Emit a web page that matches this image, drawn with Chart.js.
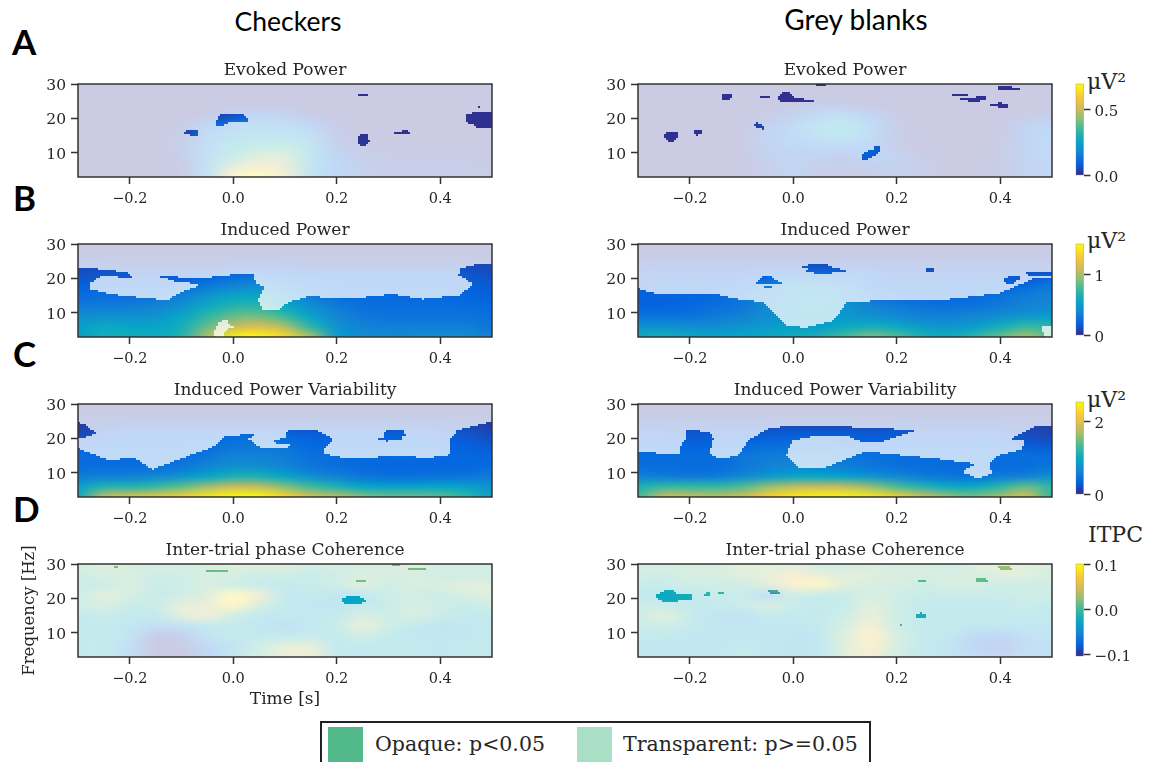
<!DOCTYPE html>
<html><head><meta charset="utf-8">
<script src="https://cdn.jsdelivr.net/npm/chart.js@4/dist/chart.umd.js"></script>
<style>
html,body{margin:0;padding:0;background:#fff;width:1154px;height:762px;overflow:hidden;position:relative}
canvas{position:absolute}
.t{position:absolute;white-space:nowrap;color:#000}
.head{font:26.5px Lato,sans-serif;transform:translateX(-50%)}
.let{font:bold 35px Lato,sans-serif}
.unit{font:22px "DejaVu Serif",serif;color:#262626}
#legend{position:absolute;left:320px;top:721px;width:547px;height:60px;border:2px solid #222;box-sizing:content-box}
.sw{position:absolute;top:4px;width:35px;height:35px}
.lt{position:absolute;top:9px;font:20.5px "DejaVu Serif",serif;color:#262626;white-space:nowrap}
</style></head><body>
<div class="t head" style="left:288px;top:5px">Checkers</div>
<div class="t head" style="left:856px;top:2px;font-size:28px">Grey blanks</div>
<div class="t let" style="left:12px;top:20px">A</div>
<div class="t let" style="left:13px;top:176px">B</div>
<div class="t let" style="left:13px;top:332px">C</div>
<div class="t let" style="left:13px;top:487px">D</div>
<div class="t unit" style="left:1087px;top:69px">μV²</div>
<div class="t unit" style="left:1087px;top:228px">μV²</div>
<div class="t unit" style="left:1087px;top:387px">μV²</div>
<div class="t unit" style="left:1088px;top:522px">ITPC</div>
<div id="legend">
<div class="sw" style="left:6px;background:#52ba8a"></div><div class="lt" style="left:53px">Opaque: p&lt;0.05</div>
<div class="sw" style="left:255px;background:#a8dfc5"></div><div class="lt" style="left:301px">Transparent: p&gt;=0.05</div>
</div>
<script>
const times=[-0.3,-0.25,-0.2,-0.15,-0.1,-0.05,0,0.05,0.1,0.15,0.2,0.25,0.3,0.35,0.4,0.45,0.5];
const freqs=[30,27,24,21,18,15,12,9,6,3];
const parula=['#352a87','#0363e1','#1485d4','#06a7c6','#38b99e','#92bf73','#d9ba56','#fcce2e','#f9fb0e'];
const xTicks=[-0.2,0,0.2,0.4];
const yTicks=[10,20,30];

const evokedCheckers=[
[.01,.01,.01,.01,.01,.01,.01,.01,.01,.01,.01,.01,.01,.01,.01,.01,.01],
[.01,.01,.01,.01,.01,.01,.01,.01,.01,.01,.01,.01,.01,.01,.01,.01,.01],
[.01,.01,.01,.01,.01,.01,.01,.01,.01,.01,.01,.01,.01,.01,.01,.01,.01],
[.01,.01,.01,.01,.01,.02,.06,.08,.06,.02,.01,.01,.01,.01,.01,.01,.01],
[.01,.01,.01,.01,.02,.09,.14,.17,.16,.09,.02,.01,.01,.01,.01,.01,.01],
[.01,.01,.01,.01,.03,.13,.21,.24,.24,.17,.03,.01,.01,.01,.01,.01,.01],
[.01,.01,.01,.01,.04,.16,.27,.32,.34,.22,.05,.02,.01,.01,.01,.01,.01],
[.01,.01,.01,.01,.03,.18,.32,.42,.42,.24,.07,.04,.02,.02,.02,.02,.01],
[.01,.01,.01,.01,.02,.18,.44,.54,.46,.22,.09,.05,.03,.03,.03,.02,.02],
[.01,.01,.01,.01,.02,.2,.62,.69,.52,.2,.09,.05,.03,.03,.03,.03,.02]];
const evokedGrey=[
[.01,.01,.01,.01,.01,.01,.01,.01,.01,.01,.01,.01,.01,.01,.01,.01,.01],
[.01,.01,.01,.01,.01,.01,.01,.01,.01,.01,.01,.01,.01,.01,.01,.01,.01],
[.01,.01,.01,.01,.01,.01,.01,.03,.03,.01,.01,.01,.01,.01,.01,.01,.01],
[.01,.01,.01,.01,.01,.02,.06,.13,.15,.07,.02,.01,.01,.01,.01,.02,.03],
[.01,.01,.01,.01,.01,.05,.12,.22,.26,.13,.03,.01,.01,.01,.01,.06,.09],
[.01,.01,.01,.01,.01,.07,.12,.2,.24,.13,.03,.01,.01,.01,.01,.07,.1],
[.01,.01,.01,.01,.01,.06,.09,.11,.12,.09,.03,.01,.01,.01,.02,.07,.1],
[.01,.01,.01,.01,.01,.05,.07,.06,.05,.08,.06,.02,.01,.01,.02,.07,.1],
[.01,.01,.01,.01,.01,.04,.07,.04,.03,.05,.05,.03,.01,.01,.02,.06,.1],
[.01,.01,.01,.01,.01,.03,.07,.03,.02,.03,.05,.03,.01,.01,.02,.05,.1]];
const inducedCheckers=[
[.02,.02,.02,.02,.02,.02,.02,.02,.02,.02,.02,.02,.02,.02,.02,.02,.02],
[.04,.04,.04,.04,.04,.04,.04,.04,.04,.04,.04,.04,.04,.04,.04,.04,.04],
[.1,.1,.08,.08,.08,.08,.1,.1,.1,.08,.08,.08,.08,.08,.08,.1,.1],
[.12,.15,.16,.16,.16,.18,.22,.24,.2,.18,.18,.18,.18,.18,.18,.15,.12],
[.18,.2,.2,.2,.22,.3,.36,.4,.32,.25,.22,.2,.2,.2,.2,.18,.16],
[.24,.25,.25,.27,.34,.46,.54,.55,.46,.32,.25,.22,.22,.22,.22,.2,.18],
[.32,.32,.33,.36,.44,.58,.68,.7,.56,.42,.32,.26,.25,.25,.25,.24,.22],
[.42,.44,.44,.46,.55,.72,.85,.88,.75,.54,.38,.31,.28,.28,.28,.28,.26],
[.52,.58,.55,.55,.62,.85,1.08,1.15,1.02,.7,.44,.36,.34,.34,.34,.34,.3],
[.52,.62,.62,.6,.68,1.02,1.46,1.5,1.35,1,.52,.42,.4,.42,.44,.42,.36]];
const inducedGrey=[
[.02,.02,.02,.02,.02,.02,.02,.02,.02,.02,.02,.02,.02,.02,.02,.02,.02],
[.04,.04,.04,.04,.04,.04,.04,.04,.04,.04,.04,.04,.04,.04,.04,.04,.04],
[.1,.1,.1,.1,.1,.1,.12,.12,.12,.1,.1,.1,.1,.1,.1,.1,.1],
[.14,.15,.15,.15,.16,.2,.22,.25,.22,.18,.15,.15,.15,.15,.15,.15,.16],
[.16,.18,.18,.18,.22,.3,.4,.42,.35,.22,.18,.18,.18,.18,.18,.22,.3],
[.18,.18,.2,.22,.28,.38,.48,.5,.42,.28,.22,.2,.2,.22,.26,.33,.36],
[.2,.2,.22,.25,.3,.4,.48,.5,.45,.36,.32,.28,.27,.28,.32,.36,.4],
[.28,.28,.28,.32,.36,.42,.48,.48,.48,.45,.4,.36,.35,.38,.42,.48,.5],
[.45,.45,.42,.42,.46,.5,.52,.52,.58,.62,.58,.5,.48,.52,.62,.75,.7],
[.6,.62,.58,.55,.55,.58,.6,.65,.78,.9,.8,.65,.6,.7,.85,1,.8]];
const varCheckers=[
[.03,.03,.03,.03,.03,.03,.03,.03,.03,.03,.03,.03,.03,.03,.03,.03,.03],
[.08,.08,.08,.08,.08,.08,.08,.08,.08,.08,.08,.08,.08,.08,.08,.08,.08],
[.1,.16,.18,.18,.18,.18,.18,.18,.18,.18,.18,.18,.18,.18,.18,.16,.1],
[.15,.28,.3,.3,.3,.32,.38,.4,.36,.3,.3,.3,.3,.3,.28,.25,.18],
[.3,.34,.35,.35,.36,.4,.48,.5,.45,.38,.35,.34,.34,.34,.32,.3,.26],
[.4,.38,.38,.4,.42,.5,.6,.6,.55,.45,.4,.38,.38,.38,.38,.35,.35],
[.42,.42,.42,.45,.5,.62,.72,.72,.62,.5,.42,.38,.36,.36,.36,.36,.4],
[.55,.6,.6,.66,.78,.95,1.1,1.1,.95,.72,.6,.5,.45,.45,.48,.48,.55],
[.9,1.15,1.15,1.25,1.42,1.65,1.85,1.8,1.55,1.3,1.12,.95,.9,.9,.95,.9,.75],
[1,1.85,2,2.1,2.2,2.4,2.55,2.55,2.25,1.95,1.8,1.55,1.45,1.45,1.4,1.2,.9]];
const varGrey=[
[.03,.03,.03,.03,.03,.03,.03,.03,.03,.03,.03,.03,.03,.03,.03,.03,.03],
[.08,.08,.08,.08,.08,.08,.08,.08,.08,.08,.08,.08,.08,.08,.08,.08,.08],
[.18,.18,.18,.18,.18,.18,.16,.16,.16,.16,.18,.18,.18,.18,.18,.14,.12],
[.28,.28,.26,.28,.28,.28,.3,.3,.3,.28,.28,.28,.28,.28,.28,.2,.16],
[.33,.33,.33,.33,.36,.42,.42,.38,.36,.33,.33,.33,.33,.33,.33,.28,.26],
[.4,.4,.4,.42,.5,.55,.55,.5,.5,.45,.42,.4,.4,.4,.42,.42,.42],
[.42,.42,.4,.4,.5,.6,.65,.62,.55,.5,.45,.42,.4,.38,.4,.42,.48],
[.6,.55,.52,.55,.66,.82,.95,.95,.9,.78,.66,.55,.5,.46,.55,.6,.75],
[1.1,1.25,1.25,1.25,1.35,1.6,1.8,1.85,1.8,1.6,1.35,1.15,1,1,1.2,1.45,1.2],
[1.3,1.9,1.85,1.8,1.9,2.2,2.4,2.5,2.5,2.4,2.2,1.9,1.6,1.5,1.7,1.95,1.2]];
const itpcCheckers=[
[.01,.02,.01,.01,.01,.01,.02,.02,.02,.01,.01,.01,.01,.02,.01,.01,.01],
[0,.01,.01,0,0,.01,.01,0,0,-.01,0,.01,.01,.01,0,0,0],
[-.01,0,.01,-.01,0,.01,0,-.01,-.02,-.01,0,.02,0,.01,.01,.02,.02],
[0,.02,.01,-.01,0,.02,.09,.04,-.02,-.02,-.03,-.03,0,0,0,.01,.02],
[0,.01,-.01,-.01,.03,.03,.08,.01,-.02,-.03,-.03,-.02,-.01,.01,0,-.01,0],
[-.02,-.01,-.02,-.02,.02,.04,0,-.02,-.03,-.02,-.02,.01,0,.01,-.01,-.02,-.02],
[-.02,-.02,-.03,-.06,-.05,-.02,-.02,-.03,-.05,-.03,-.01,.03,0,-.02,-.04,-.03,-.02],
[-.02,-.02,-.04,-.1,-.09,-.05,-.02,-.02,-.02,-.01,-.02,0,-.02,-.03,-.04,-.03,-.02],
[-.02,-.02,-.06,-.1,-.1,-.07,-.04,0,.03,.03,-.02,-.02,-.02,-.02,-.03,-.02,-.02],
[-.02,-.02,-.06,-.1,-.1,-.08,-.03,.01,.04,.04,-.02,-.02,-.02,-.02,-.03,-.02,-.02]];
const itpcGrey=[
[.01,.01,.01,.01,.02,.02,.02,0,0,.01,.01,.01,0,.02,.03,.02,.01],
[0,0,.01,.01,.02,.03,.05,.03,.02,.02,.01,.01,.01,.01,.02,.02,.01],
[-.01,-.01,0,0,0,.02,.06,.08,.02,.01,.01,0,.01,.01,0,0,0],
[-.02,-.03,-.02,-.01,-.01,-.05,0,-.01,-.01,.01,0,-.01,-.01,-.01,-.01,0,0],
[-.01,-.01,-.02,-.02,-.01,.01,-.01,-.02,-.01,.02,0,-.02,-.02,-.02,-.02,-.01,-.02],
[0,.02,-.01,-.04,-.05,-.02,-.02,-.02,0,.03,0,-.02,-.02,-.02,-.02,-.02,-.02],
[-.01,0,-.02,-.03,-.04,-.03,-.03,-.02,.01,.05,0,-.02,-.02,-.03,-.03,-.03,-.03],
[-.02,-.02,-.03,-.03,-.03,-.03,-.04,-.03,.02,.07,.01,-.02,-.03,-.07,-.08,-.05,-.04],
[-.03,-.03,-.03,-.03,-.02,-.03,-.04,-.03,.02,.06,.01,-.02,-.04,-.08,-.09,-.06,-.05],
[-.03,-.03,-.03,-.03,-.01,-.03,-.04,-.03,.02,.05,0,-.02,-.04,-.06,-.07,-.05,-.05]];

const sigEvokedCheckers=[
[-.03,20,-.022,21.3,.015,21.3,.027,20.3,.027,19.3,0,18.8,-.012,18.8,-.02,17.6,-.033,18.2],
[-.093,16.4,-.07,16.4,-.068,15,-.08,15.2,-.093,15.7],
[.24,27.2,.26,27.2,.26,26.8,.24,26.8],
[.245,15.4,.258,15.5,.262,13.5,.255,11.8,.247,12,.24,13.5],
[.313,16,.325,16.1,.33,16.8,.338,16.8,.34,15.6,.313,15.5],
[.449,20.8,.463,21,.463,22,.5,22,.5,17.3,.47,17.3,.465,18.6,.449,19],
[.472,23.6,.478,23.6,.478,23.2,.472,23.2]];
const sigEvokedGrey=[
[-.249,15.5,-.24,15.9,-.223,15.9,-.222,14.8,-.232,13.3,-.24,13.5,-.249,14.7],
[-.193,16.4,-.174,16.4,-.178,15.6,-.186,15.2,-.193,15.7],
[-.136,26.8,-.12,26.8,-.119,25.8,-.136,25.7],
[-.062,26.3,-.046,26.3,-.046,25.9,-.062,25.9],
[-.028,26.2,-.02,27.4,-.006,27.2,.003,26,.012,25.6,.04,25.2,.04,24.8,.012,24.8,-.02,24.9,-.028,25.4],
[-.078,18.2,-.07,18.7,-.062,18.2,-.055,17,-.07,17.2],
[.043,30,.064,30,.06,29.6,.047,29.6],
[.132,8.6,.14,10.2,.155,11,.16,12,.168,11.8,.165,10,.15,8.8,.14,7.9,.132,8],
[.394,29,.405,29.6,.42,29.6,.425,28.9,.439,28.8,.439,28.5,.394,28.5],
[.307,26.9,.337,26.9,.337,26.5,.307,26.5],
[.321,26.1,.352,26.1,.365,26.6,.375,25.8,.36,25,.34,24.7,.335,25.6,.321,25.7],
[.382,24,.4,24.5,.416,23.9,.416,23.2,.382,23.6]];
const sigInducedCheckers=[
[-.3,3,-.3,23.1,-.259,22.6,-.208,21.7,-.192,20.3,-.24,20.7,-.259,20.6,-.279,18.5,-.279,17,-.24,15.4,-.15,13.9,-.127,13.6,-.105,15.6,-.066,17.8,-.07,19.7,-.02,20.7,.037,21.5,.044,18.5,.06,17.5,.047,13.5,.057,10.7,.089,10.7,.105,12.8,.147,14.8,.218,13.9,.308,15.3,.366,13.9,.437,15.1,.45,16.5,.466,18.5,.436,21,.44,22.9,.469,23.9,.5,24.2,.5,3],
[-.15,20.8,-.07,19.9,-.07,18.6,-.11,19.2],
[-.04,4,-.03,7,-.012,8.4,-.008,6.8,.008,6,-.012,5,-.02,3.2,-.035,3.2],
[-.135,7.5,-.125,7.5,-.125,7,-.135,7]];
const sigInducedGrey=[
[-.3,3,-.3,17,-.271,15.6,-.148,15.4,-.1,13.6,-.059,13.1,-.035,9.7,-.011,6.2,.023,5.6,.078,7.7,.105,13.1,.303,13.9,.399,15.6,.467,20,.5,20,.5,3],
[.481,6.2,.5,6.2,.5,3,.488,3,.481,4.5],
[.011,23.6,.03,23.7,.035,24.2,.062,24.2,.075,23,.108,22.2,.08,21.9,.065,21.5,.026,21.8,.03,23],
[-.07,19,-.06,20.6,-.04,20.4,-.035,19.2,-.022,18.9,-.022,18.6,-.07,18.6],
[-.055,17.6,-.04,17.8,-.04,17.4,-.055,17.2],
[.255,22.6,.272,23,.272,22.2,.26,22],
[.405,19.8,.42,20.6,.44,20.3,.425,18.5,.41,18.8],
[.447,21.7,.465,22,.5,22,.5,20.5,.46,20.6]];
const sigVarCheckers=[
[-.3,3,-.3,17,-.24,13.6,-.192,14.3,-.156,10.9,-.117,13.1,-.037,17.5,-.014,20.6,.041,21.2,.028,19.9,.05,17.3,.102,17,.112,18.4,.073,18.9,.102,20.2,.102,22,.16,22.5,.192,19.9,.176,17,.176,15.3,.224,14.1,.347,15,.36,13.9,.418,15,.421,19.9,.434,22.3,.5,24.8,.5,3],
[-.3,24.5,-.285,23.8,-.266,21.5,-.28,20.7,-.3,20],
[.29,21.3,.3,22.6,.325,22.6,.334,21,.32,20.4,.33,20,.3,19.7,.3,19.2,.278,19.8,.3,20.6]];
const sigVarGrey=[
[-.3,3,-.3,15.8,-.22,15.5,-.218,17.5,-.206,20.2,-.206,22.6,-.162,21.6,-.155,19.9,-.163,15.3,-.145,14.3,-.107,14.6,-.087,19.4,-.045,23.1,.036,23.8,.235,22.3,.173,19.2,.125,19.4,.105,20.9,.05,21.2,-.001,19.6,-.015,15,.009,11.6,.064,11.6,.139,16,.283,13.9,.351,12.6,.324,10.2,.358,8.2,.385,9.7,.379,12.6,.392,14.8,.44,16.5,.45,19.4,.42,19.9,.467,23.3,.5,23.5,.5,3]];
const sigItpcCheckers=[
[.211,19.8,.225,20.7,.24,20.7,.257,19.4,.24,18.4,.22,18.3,.211,19],
[-.053,28.4,-.01,28.4,-.01,28,-.053,28],
[.234,24.8,.245,25.3,.259,24.9,.259,24.6,.234,24.6],
[.339,28.7,.371,28.7,.371,28.3,.339,28.3],
[.308,30,.321,30,.321,29.7,.308,29.7],
[-.229,29.4,-.224,29.4,-.224,28.9,-.229,28.9]];
const sigItpcGrey=[
[-.268,20.4,-.25,22.2,-.235,22.3,-.22,21,-.196,21,-.196,20,-.23,19.3,-.25,19,-.26,20],
[-.172,20.5,-.165,22,-.158,21.5,-.166,20.8],
[-.146,21.9,-.136,21.9,-.136,21.4,-.146,21.4],
[-.05,22.2,-.04,22.5,-.025,21.8,-.025,21.4,-.045,21.6],
[-.14,26.7,-.133,26.7,-.133,26.3,-.14,26.3],
[.242,25.2,.257,25.2,.257,24.8,.242,24.8],
[.237,15.2,.245,15.8,.257,14.9,.257,14.3,.24,14.4],
[.205,12.2,.21,13,.212,12.5,.207,12],
[.35,25.6,.374,25.6,.374,24.6,.358,24.6],
[.396,29.6,.418,29.6,.423,28.2,.402,28.2]];

function hexRgb(h){return [1,3,5].map(i=>parseInt(h.substr(i,2),16));}
function colorOf(v,vmin,vmax){
  let f=Math.max(0,Math.min(1,(v-vmin)/(vmax-vmin)))*(parula.length-1);
  const i=Math.min(parula.length-2,Math.floor(f));f-=i;
  const a=hexRgb(parula[i]),b=hexRgb(parula[i+1]);
  return 'rgb('+a.map((c,k)=>Math.round(c+(b[k]-c)*f)).join(',')+')';
}
const heatPlugin={id:'heat',beforeDatasetsDraw(chart){
  const o=chart.options.plugins.heat,ctx=chart.ctx,a=chart.chartArea;
  const els=chart.getDatasetMeta(0).data,raw=chart.data.datasets[0].data;
  const nc=o.cols,nr=o.rows;
  const off=document.createElement('canvas');off.width=nc;off.height=nr;
  const oc=off.getContext('2d');
  raw.forEach((p,i)=>{oc.fillStyle=colorOf(p.v,o.vmin,o.vmax);oc.fillRect(i%nc,Math.floor(i/nc),1,1);});
  const x0=els[0].x,y0=els[0].y,dx=(els[nc-1].x-x0)/(nc-1),dy=(els[nc*(nr-1)].y-y0)/(nr-1);
  const paint=(c,ox,oy)=>{c.imageSmoothingEnabled=true;c.imageSmoothingQuality='high';
    c.drawImage(off,x0-dx/2-ox,y0-dy/2-oy,dx*nc,dy*nr);};
  ctx.save();
  ctx.beginPath();ctx.rect(a.left,a.top,a.right-a.left,a.bottom-a.top);ctx.clip();
  ctx.globalAlpha=o.alpha;paint(ctx,0,0);
  ctx.globalAlpha=1;
  if(o.alpha<1){
    const w=Math.ceil(a.right-a.left),h=Math.ceil(a.bottom-a.top),S=2;
    const m=document.createElement('canvas');m.width=Math.ceil(w/S);m.height=Math.ceil(h/S);
    const mc=m.getContext('2d');mc.scale(1/S,1/S);mc.translate(-a.left,-a.top);
    mc.beginPath();
    chart.data.datasets.forEach((d,di)=>{ if(!d.sig)return;
      chart.getDatasetMeta(di).data.forEach((e,i)=>{i?mc.lineTo(e.x,e.y):mc.moveTo(e.x,e.y);});
      mc.closePath();
    });
    mc.fill('evenodd');
    const id=mc.getImageData(0,0,m.width,m.height);
    for(let i=3;i<id.data.length;i+=4)id.data[i]=id.data[i]>70?255:0;
    mc.putImageData(id,0,0);
    const lay=document.createElement('canvas');lay.width=w;lay.height=h;
    const lc=lay.getContext('2d');
    paint(lc,a.left,a.top);
    lc.globalCompositeOperation='destination-in';
    lc.imageSmoothingEnabled=false;
    lc.drawImage(m,0,0,m.width*S,m.height*S);
    ctx.drawImage(lay,a.left,a.top);
  }
  ctx.restore();
},afterDraw(chart){
  const o=chart.options.plugins.heat,ctx=chart.ctx,a=chart.chartArea;
  ctx.save();ctx.strokeStyle=o.frame;ctx.lineWidth=o.frameW;
  ctx.strokeRect(a.left,a.top,a.right-a.left,a.bottom-a.top);ctx.restore();
}};
Chart.register(heatPlugin);
const serif='"DejaVu Serif",serif',ink='#262626',line='#333';
const fmt=v=>v.toFixed(1).replace('-','−');

function place(cv,chart,L,T){
  const a=chart.chartArea;
  cv.style.left=(L-a.left)+'px';
  cv.style.top=(T-a.top)+'px';
}
function panel(L,T,title,field,sig,vmin,vmax,labels){
  const W=414,H=93,yW=78,tH=24,xH=labels?62:40;
  const cv=document.createElement('canvas');
  cv.width=W+2*yW;cv.height=tH+H+xH;
  cv.style.left=(L-yW)+'px';cv.style.top=(T-tH)+'px';
  document.body.appendChild(cv);
  const pts=[];
  freqs.forEach((f,r)=>times.forEach((t,c)=>pts.push({x:t,y:f,v:field[r][c]})));
  const datasets=[{label:title,data:pts,pointRadius:0,showLine:false}];
  sig.forEach(poly=>{
    const d=[];for(let i=0;i<poly.length;i+=2)d.push({x:poly[i],y:poly[i+1]});
    datasets.push({label:'p<0.05',sig:true,data:d,pointRadius:0,showLine:false});
  });
  const chart=new Chart(cv,{type:'scatter',data:{datasets},options:{
    responsive:false,animation:false,events:[],
    layout:{autoPadding:false,padding:{left:0,right:yW,top:0,bottom:0}},
    plugins:{legend:{display:false},tooltip:{enabled:false},
      title:{display:true,fullSize:false,text:title,color:ink,font:{family:serif,size:17,weight:'normal',lineHeight:1},padding:{top:2,bottom:tH-19}},
      heat:{cols:times.length,rows:freqs.length,vmin,vmax,alpha:.25,frame:line,frameW:1.5}},
    scales:{
      x:{type:'linear',min:-0.3,max:0.5,
        afterBuildTicks:s=>{s.ticks=xTicks.map(v=>({value:v}));},
        afterFit:s=>{s.height=xH;},
        grid:{drawOnChartArea:false,drawTicks:true,tickLength:7,tickWidth:1.5,tickColor:line},
        border:{display:false},
        ticks:{autoSkip:false,maxRotation:0,color:ink,font:{family:serif,size:14.5},padding:7,callback:fmt},
        title:{display:!!labels,text:'Time [s]',color:ink,font:{family:serif,size:17},padding:{top:0,bottom:9}}},
      y:{type:'linear',min:3,max:30,
        afterBuildTicks:s=>{s.ticks=yTicks.map(v=>({value:v}));},
        afterFit:s=>{s.width=yW;},
        grid:{drawOnChartArea:false,drawTicks:true,tickLength:7,tickWidth:1.5,tickColor:line},
        border:{display:false},
        ticks:{color:ink,font:{family:serif,size:15.5},padding:5,labelOffset:2,callback:v=>String(v)},
        title:{display:!!labels,text:'Frequency [Hz]',color:ink,font:{family:serif,size:16.5},padding:{top:20,bottom:0}}}
    }}});
  place(cv,chart,L,T);
}
function colorbar(T,B,vmin,vmax,ticks,dec){
  const L=1076,W=7.5,levels=40;
  const cv=document.createElement('canvas');
  cv.width=90;cv.height=B-T+24;
  cv.style.left=(L-6)+'px';cv.style.top=(T-12)+'px';
  document.body.appendChild(cv);
  const pts=[];
  for(let r=0;r<levels;r++){const v=vmax-(vmax-vmin)*(r+.5)/levels;
    pts.push({x:0.25,y:v,v},{x:0.75,y:v,v});}
  const chart=new Chart(cv,{type:'scatter',data:{datasets:[{label:'colorbar',data:pts,pointRadius:0,showLine:false}]},options:{
    responsive:false,animation:false,events:[],
    layout:{autoPadding:false,padding:{left:6,right:0,top:12,bottom:12}},
    plugins:{legend:{display:false},tooltip:{enabled:false},
      heat:{cols:2,rows:levels,vmin,vmax,alpha:1,frame:'rgba(120,120,120,.35)',frameW:1}},
    scales:{
      x:{type:'linear',min:0,max:1,display:false},
      y:{type:'linear',position:'right',min:vmin,max:vmax,
        afterBuildTicks:s=>{s.ticks=ticks.map(v=>({value:v}));},
        afterFit:s=>{s.width=90-6-W;},
        grid:{drawOnChartArea:false,drawTicks:true,tickLength:7,tickWidth:1.5,tickColor:line},
        border:{display:false},
        ticks:{color:ink,font:{family:serif,size:15},padding:4,labelOffset:3,callback:v=>dec?fmt(v):String(v)}}
    }}});
  place(cv,chart,L,T);
}
const LX=78,RX=638,rowsT=[84,244,404,564];
panel(LX,rowsT[0],'Evoked Power',evokedCheckers,sigEvokedCheckers,0,.69);
panel(RX,rowsT[0],'Evoked Power',evokedGrey,sigEvokedGrey,0,.69);
panel(LX,rowsT[1],'Induced Power',inducedCheckers,sigInducedCheckers,0,1.5);
panel(RX,rowsT[1],'Induced Power',inducedGrey,sigInducedGrey,0,1.5);
panel(LX,rowsT[2],'Induced Power Variability',varCheckers,sigVarCheckers,0,2.55);
panel(RX,rowsT[2],'Induced Power Variability',varGrey,sigVarGrey,0,2.55);
panel(LX,rowsT[3],'Inter-trial phase Coherence',itpcCheckers,sigItpcCheckers,-.104,.1,true);
panel(RX,rowsT[3],'Inter-trial phase Coherence',itpcGrey,sigItpcGrey,-.104,.1);
colorbar(84,177,0,.69,[0,.5],true);
colorbar(244,337,0,1.5,[0,1],false);
colorbar(402,496,0,2.54,[0,2],false);
colorbar(564,658,-.104,.1,[-.1,0,.1],true);
</script>
</body></html>
